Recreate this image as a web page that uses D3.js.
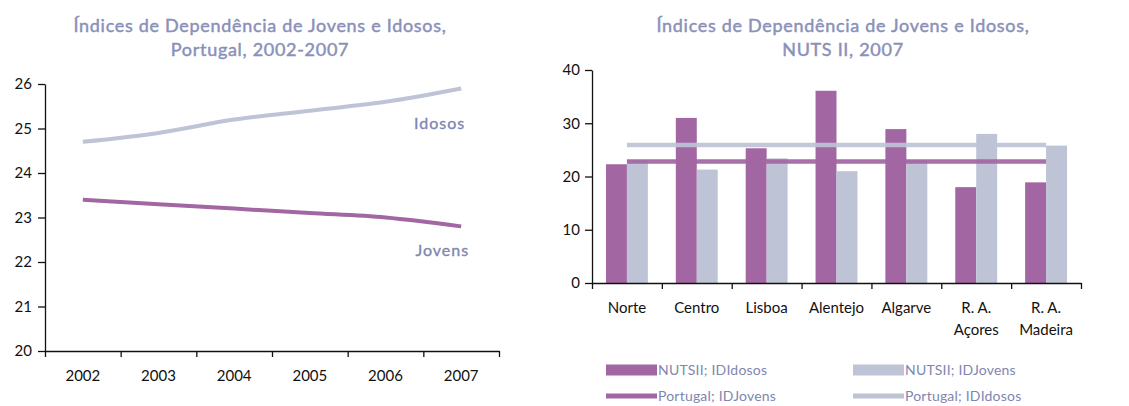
<!DOCTYPE html>
<html lang="pt">
<head>
<meta charset="UTF-8">
<title>Índices de Dependência</title>
<style>
  body { margin: 0; padding: 0; background: #fff; font-family: Lato, "Open Sans", sans-serif; }
  svg text { font-family: Lato, "Open Sans", sans-serif; }
  .title { fill: #8a90b9; stroke: #8a90b9; stroke-width: 0.45px; font-size: 18px; font-weight: 400; letter-spacing: 0.7px; }
  .axis path, .axis line { stroke: #111; stroke-width: 1.3; }
  .axis text { fill: #111; font-size: 15px; }
  .serie-label { fill: #8086b0; stroke: #8086b0; stroke-width: 0.35px; font-size: 16px; font-weight: 400; letter-spacing: 1px; }
  .legend-text { fill: #8086b0; font-size: 14px; letter-spacing: 0.2px; }
</style>
</head>
<body>
<svg id="chart" width="1129" height="406"></svg>
<script src="https://d3js.org/d3.v7.min.js"></script>
<script>
// left chart data
const years = ['2002', '2003', '2004', '2005', '2006', '2007'];
const idosos = [24.7, 24.9, 25.2, 25.4, 25.6, 25.9];
const jovens = [23.4, 23.3, 23.2, 23.1, 23.0, 22.8];
const leftTicks = [20, 21, 22, 23, 24, 25, 26];

// right chart data
const regioes = ['Norte', 'Centro', 'Lisboa', 'Alentejo', 'Algarve', 'R. A.|Açores', 'R. A.|Madeira'];
const nutsIdosos = [22.3, 31.0, 25.3, 36.1, 28.9, 18.0, 18.9];
const nutsJovens = [23.1, 21.3, 23.4, 21.0, 23.1, 28.0, 25.8];
const ptJovens = 22.8;
const ptIdosos = 25.9;
const rightTicks = [0, 10, 20, 30, 40];

const purple = '#a266a3';
const grey = '#bec4d6';

const svg = d3.select('#chart');

// ---------- left chart ----------
const xL = d3.scaleBand().domain(years).range([45, 499]);
const yL = d3.scaleLinear().domain([20, 26]).range([351, 84]);

const left = svg.append('g');

left.append('text').attr('class', 'title').attr('x', 260).attr('y', 32)
  .attr('text-anchor', 'middle').text('Índices de Dependência de Jovens e Idosos,');
left.append('text').attr('class', 'title').attr('x', 260).attr('y', 56)
  .attr('text-anchor', 'middle').text('Portugal, 2002-2007');

left.append('g').attr('class', 'axis')
  .attr('transform', 'translate(45,0)')
  .call(d3.axisLeft(yL).tickValues(leftTicks).tickFormat(d3.format('d'))
    .tickSize(7).tickSizeOuter(0).tickPadding(6));

// boundary ticks for x axis
const xLb = d3.scaleLinear().domain([0, years.length]).range(xL.range());
left.append('g').attr('class', 'axis')
  .attr('transform', 'translate(0,351)')
  .call(d3.axisBottom(xLb).tickValues(d3.range(years.length + 1)).tickFormat('').tickSize(6).tickSizeOuter(0));
left.append('g').attr('class', 'axis')
  .attr('transform', 'translate(0,351)')
  .call(d3.axisBottom(xL).tickSize(0).tickPadding(19))
  .call(g => g.select('.domain').remove());

const lineL = d3.line()
  .x((d, i) => xL(years[i]) + xL.bandwidth() / 2)
  .y(d => yL(d))
  .curve(d3.curveMonotoneX);

left.append('path').datum(idosos).attr('d', lineL)
  .attr('fill', 'none').attr('stroke', grey).attr('stroke-width', 4);
left.append('path').datum(jovens).attr('d', lineL)
  .attr('fill', 'none').attr('stroke', purple).attr('stroke-width', 4);

left.append('text').attr('class', 'serie-label')
  .attr('x', xL('2007') + xL.bandwidth() / 2 + 4).attr('y', yL(25.0))
  .attr('text-anchor', 'end').text('Idosos');
left.append('text').attr('class', 'serie-label')
  .attr('x', xL('2007') + xL.bandwidth() / 2 + 8).attr('y', yL(22.13))
  .attr('text-anchor', 'end').text('Jovens');

// ---------- right chart ----------
const xR = d3.scaleBand().domain(regioes).range([592, 1081]);
const xSub = d3.scaleBand().domain(['idosos', 'jovens'])
  .range([xR.bandwidth() * 0.2, xR.bandwidth() * 0.8]);
const yR = d3.scaleLinear().domain([0, 40]).range([283, 70]);

const right = svg.append('g');

right.append('text').attr('class', 'title').attr('x', 843).attr('y', 32)
  .attr('text-anchor', 'middle').text('Índices de Dependência de Jovens e Idosos,');
right.append('text').attr('class', 'title').attr('x', 843).attr('y', 56)
  .attr('text-anchor', 'middle').text('NUTS II, 2007');

const groups = right.append('g').selectAll('g')
  .data(regioes)
  .join('g')
  .attr('transform', d => `translate(${xR(d)},0)`);

groups.append('rect')
  .attr('x', xSub('idosos')).attr('width', xSub.bandwidth())
  .attr('y', (d, i) => yR(nutsIdosos[i]))
  .attr('height', (d, i) => yR(0) - yR(nutsIdosos[i]))
  .attr('fill', purple);
groups.append('rect')
  .attr('x', xSub('jovens')).attr('width', xSub.bandwidth())
  .attr('y', (d, i) => yR(nutsJovens[i]))
  .attr('height', (d, i) => yR(0) - yR(nutsJovens[i]))
  .attr('fill', grey);

// Portugal reference lines
const xFirst = xR(regioes[0]) + xR.bandwidth() / 2;
const xLast = xR(regioes[regioes.length - 1]) + xR.bandwidth() / 2;
right.append('line')
  .attr('x1', xFirst).attr('x2', xLast)
  .attr('y1', yR(ptIdosos)).attr('y2', yR(ptIdosos))
  .attr('stroke', grey).attr('stroke-width', 4.5).attr('opacity', 0.92);
right.append('line')
  .attr('x1', xFirst).attr('x2', xLast)
  .attr('y1', yR(ptJovens)).attr('y2', yR(ptJovens))
  .attr('stroke', purple).attr('stroke-width', 4.5).attr('opacity', 0.92);

right.append('g').attr('class', 'axis')
  .attr('transform', 'translate(592,0)')
  .call(d3.axisLeft(yR).tickValues(rightTicks).tickSize(7).tickSizeOuter(0).tickPadding(5));

const xRb = d3.scaleLinear().domain([0, regioes.length]).range(xR.range());
right.append('g').attr('class', 'axis')
  .attr('transform', 'translate(0,283)')
  .call(d3.axisBottom(xRb).tickValues(d3.range(regioes.length + 1)).tickFormat('').tickSize(6).tickSizeOuter(0));

const catAxis = right.append('g').attr('class', 'axis')
  .attr('transform', 'translate(0,283)')
  .call(d3.axisBottom(xR).tickSize(0).tickFormat('').tickPadding(0));
catAxis.select('.domain').remove();
catAxis.selectAll('.tick').append('text')
  .attr('fill', '#111')
  .attr('text-anchor', 'middle')
  .style('font-size', '15px')
  .selectAll('tspan')
  .data(d => d.split('|'))
  .join('tspan')
  .attr('x', 0)
  .attr('y', (d, i) => 30 + i * 22)
  .text(d => d);

// legend
const legendItems = [
  { label: 'NUTSII; IDIdosos', color: purple, h: 11, col: 0, row: 0 },
  { label: 'NUTSII; IDJovens', color: grey, h: 11, col: 1, row: 0 },
  { label: 'Portugal; IDJovens', color: purple, h: 5, col: 0, row: 1 },
  { label: 'Portugal; IDIdosos', color: grey, h: 5, col: 1, row: 1 }
];
const legend = right.append('g');
const li = legend.selectAll('g').data(legendItems).join('g')
  .attr('transform', d => `translate(${606 + d.col * 247},${370 + d.row * 26})`);
li.append('rect')
  .attr('x', 0).attr('width', 51)
  .attr('y', d => -d.h / 2).attr('height', d => d.h)
  .attr('fill', d => d.color);
li.append('text').attr('class', 'legend-text')
  .attr('x', 52).attr('y', 5).text(d => d.label);
</script>
</body>
</html>
